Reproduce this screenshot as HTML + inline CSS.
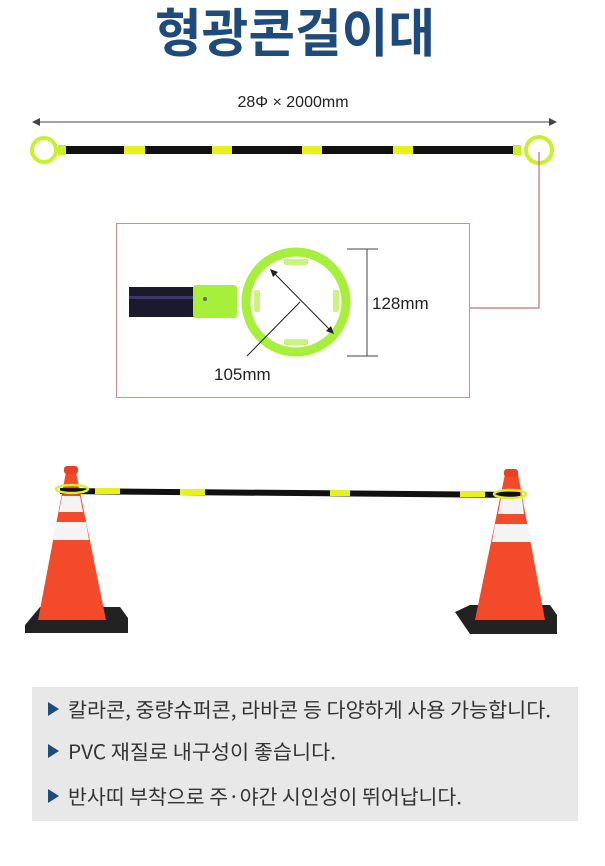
<!DOCTYPE html>
<html><head><meta charset="utf-8"><style>
body{margin:0;width:605px;height:866px;background:#fff;overflow:hidden;font-family:"Liberation Sans","Noto Sans CJK KR",sans-serif}
svg{position:absolute;left:0;top:0}
</style></head><body>
<svg width="605" height="866" viewBox="0 0 605 866" font-family="Liberation Sans, Noto Sans CJK KR, sans-serif">
<text x="295" y="52" text-anchor="middle" font-size="52" font-weight="bold" fill="#1f4b7a" font-family="Noto Sans CJK KR, sans-serif" textLength="280" lengthAdjust="spacingAndGlyphs">형광콘걸이대</text>
<text x="293" y="107" text-anchor="middle" font-size="16" fill="#222">28Φ × 2000mm</text>
<line x1="36" y1="122" x2="553" y2="122" stroke="#444" stroke-width="1"/>
<path d="M32 122 L40 118 L40 126Z M557 122 L549 118 L549 126Z" fill="#444"/>
<rect x="60" y="146" width="460" height="8" fill="#111"/>
<g fill="#e6f21a"><rect x="124" y="146" width="21" height="8"/><rect x="212" y="146" width="20" height="8"/><rect x="302" y="146" width="20" height="8"/><rect x="393" y="146" width="20" height="8"/></g>
<rect x="58" y="145" width="8" height="10" fill="#c8ee30"/><rect x="513" y="145" width="8" height="10" fill="#c8ee30"/>
<circle cx="44" cy="150" r="12" fill="none" stroke="#c8f030" stroke-width="4"/>
<circle cx="539" cy="150" r="13" fill="none" stroke="#c8f030" stroke-width="4"/>
<polyline points="539,152 539,308 470,308" fill="none" stroke="#b05050" stroke-width="1"/>
<rect x="116.5" y="223.5" width="353" height="174" fill="none" stroke="#c89090" stroke-width="1"/>
<rect x="129" y="287" width="66" height="30" fill="#1a1a2a"/>
<rect x="129" y="296" width="66" height="3" fill="#5050a0" opacity=".6"/>
<rect x="193" y="285" width="44" height="33" rx="3" fill="#a6ef3a"/>
<circle cx="205" cy="299" r="2" fill="#666"/>
<circle cx="296" cy="302" r="50" fill="none" stroke="#a6ef3a" stroke-width="9"/>
<g fill="#c8f57a"><rect x="284" y="259" width="24" height="6" rx="2"/><rect x="284" y="339" width="24" height="6" rx="2"/><rect x="254" y="290" width="6" height="22" rx="2"/><rect x="333" y="290" width="6" height="22" rx="2"/></g>
<line x1="273" y1="272" x2="331" y2="331" stroke="#222" stroke-width="1"/>
<path d="M270 269 L278 272 L273 277Z M334 334 L326 331 L331 326Z" fill="#222"/>
<line x1="247" y1="356" x2="300" y2="302" stroke="#222" stroke-width="1"/>
<line x1="367" y1="249" x2="367" y2="356" stroke="#444"/>
<line x1="347" y1="249" x2="378" y2="249" stroke="#444"/><line x1="347" y1="356" x2="378" y2="356" stroke="#444"/>
<text x="372" y="309" font-size="17" fill="#222">128mm</text>
<text x="214" y="380" font-size="17" fill="#222">105mm</text>
<g>
<path d="M25 625 L40 607 L120 607 L128 618 L128 633 L25 633Z" fill="#222"/>
<path d="M38 620 L66 472 L76 472 L106 620Z" fill="#f24a2a"/>
<path d="M62 496 L80 496 L83 512 L59 512Z M56 522 L86 522 L89 540 L53 540Z" fill="#f4f4f4"/>
<rect x="64" y="466" width="14" height="8" rx="3" fill="#e84020"/>
<path d="M455 612 L470 605 L550 605 L557 615 L557 634 L470 634Z" fill="#222"/>
<path d="M475 620 L505 474 L518 474 L545 620Z" fill="#f24a2a"/>
<path d="M501 498 L522 498 L524 514 L498 514Z M495 524 L528 524 L531 542 L492 542Z" fill="#f4f4f4"/>
<rect x="504" y="469" width="14" height="8" rx="3" fill="#e84020"/>
</g>
<path d="M60 488 L520 492 L520 498 L60 494Z" fill="#111"/>
<g fill="#e6f21a"><path d="M95 488 L120 488 L120 494 L95 494Z"/><path d="M180 489 L205 489 L205 495 L180 495Z"/><path d="M330 490 L350 490 L350 496 L330 496Z"/><path d="M460 491 L485 491 L485 497 L460 497Z"/></g>
<ellipse cx="72" cy="489" rx="16" ry="4" fill="none" stroke="#d8f030" stroke-width="2.5"/>
<ellipse cx="510" cy="494" rx="16" ry="4" fill="none" stroke="#d8f030" stroke-width="2.5"/>
<rect x="32" y="687" width="546" height="134" fill="#e8e8e8"/>
<g fill="#1f4b7a"><path d="M48 702 L59 709 L48 716Z"/><path d="M48 744 L59 751 L48 758Z"/><path d="M48 789 L59 796 L48 803Z"/></g>
<g font-size="20" fill="#333" font-family="Noto Sans CJK KR, sans-serif">
<text x="68" y="717" textLength="483" lengthAdjust="spacingAndGlyphs">칼라콘, 중량슈퍼콘, 라바콘 등 다양하게 사용 가능합니다.</text>
<text x="68" y="759" textLength="268" lengthAdjust="spacingAndGlyphs">PVC 재질로 내구성이 좋습니다.</text>
<text x="68" y="804" textLength="394" lengthAdjust="spacingAndGlyphs">반사띠 부착으로 주·야간 시인성이 뛰어납니다.</text>
</g>
</svg>
</body></html>
